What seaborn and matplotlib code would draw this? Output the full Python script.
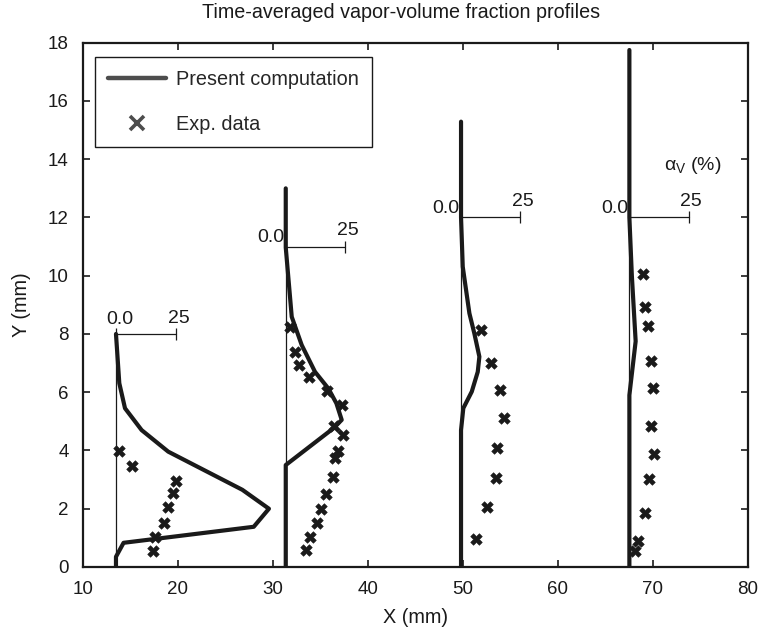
import matplotlib
matplotlib.use("Agg")
import matplotlib.pyplot as plt
import seaborn as sns
import pandas as pd
from matplotlib.lines import Line2D

# --------------------------------------------------
# Data (X and Y in mm)
# --------------------------------------------------
stations = ["s1", "s2", "s3", "s4"]
baseline_x = [13.5, 31.37, 49.82, 67.54]      # 0.0 % position of each profile
scale_y = [8.0, 11.0, 12.0, 12.0]             # height of the little scale bar
scale_25_x = [19.85, 37.63, 56.04, 73.79]     # 25 % position of each profile

calc1_x = [13.5, 13.5, 14.3, 28.0, 29.6, 26.8, 19.0, 16.2, 14.45, 13.85, 13.5]
calc1_y = [0.0, 0.35, 0.83, 1.38, 2.0, 2.65, 3.96, 4.70, 5.45, 6.31, 8.0]
calc2_x = [31.37, 31.37, 36.38, 37.26, 36.7, 35.85, 34.45, 33.05, 32.0, 31.37, 31.37]
calc2_y = [0.0, 3.50, 4.76, 5.05, 5.62, 6.13, 6.70, 7.62, 8.59, 10.97, 13.0]
calc3_x = [49.82, 49.82, 50.06, 50.95, 51.58, 51.75, 51.22, 50.7, 50.0, 49.82, 49.82]
calc3_y = [0.0, 4.70, 5.45, 6.02, 6.70, 7.22, 8.02, 8.71, 10.31, 12.0, 15.29]
calc4_x = [67.54, 67.54, 68.2, 67.8, 67.54, 67.54]
calc4_y = [0.0, 5.9, 7.75, 10.0, 12.0, 17.75]

exp1_x = [13.85, 15.22, 19.82, 19.47, 19.0, 18.56, 17.61, 17.37]
exp1_y = [3.99, 3.47, 2.96, 2.53, 2.05, 1.50, 1.04, 0.56]
exp2_x = [31.82, 32.35, 32.77, 33.82, 35.75, 37.26, 36.49, 37.37, 36.84, 36.6,
          36.38, 35.58, 35.05, 34.63, 33.93, 33.47]
exp2_y = [8.25, 7.39, 6.93, 6.51, 6.05, 5.56, 4.84, 4.53, 3.99, 3.75,
          3.10, 2.50, 1.98, 1.52, 1.04, 0.58]
exp3_x = [51.93, 52.98, 53.93, 54.38, 53.58, 53.51, 52.53, 51.4]
exp3_y = [8.14, 7.01, 6.08, 5.10, 4.07, 3.04, 2.07, 0.95]
exp4_x = [68.95, 69.2, 69.47, 69.82, 70.0, 69.82, 70.14, 69.65, 69.2, 68.4, 68.15]
exp4_y = [10.07, 8.91, 8.29, 7.06, 6.14, 4.85, 3.87, 3.01, 1.87, 0.88, 0.55]

calc_x = [calc1_x, calc2_x, calc3_x, calc4_x]
calc_y = [calc1_y, calc2_y, calc3_y, calc4_y]
exp_x = [exp1_x, exp2_x, exp3_x, exp4_x]
exp_y = [exp1_y, exp2_y, exp3_y, exp4_y]

calc_df = pd.concat(
    [pd.DataFrame({"station": s, "x": x, "y": y})
     for s, x, y in zip(stations, calc_x, calc_y)],
    ignore_index=True,
)
exp_df = pd.concat(
    [pd.DataFrame({"station": s, "x": x, "y": y})
     for s, x, y in zip(stations, exp_x, exp_y)],
    ignore_index=True,
)

# --------------------------------------------------
# Style
# --------------------------------------------------
sns.set_style("ticks", {"xtick.direction": "in", "ytick.direction": "in"})
plt.rcParams["font.family"] = ["Liberation Sans", "DejaVu Sans"]
plt.rcParams["mathtext.fontset"] = "custom"
plt.rcParams["mathtext.rm"] = "Liberation Sans"
plt.rcParams["mathtext.it"] = "Liberation Sans"

ink = "#1a1a1a"

fig = plt.figure(figsize=(7.61, 6.33), dpi=100)
ax = fig.add_axes([0.1087, 0.1043, 0.8739, 0.8282])

# thin baselines and scale bars
for bx, sy, s25 in zip(baseline_x, scale_y, scale_25_x):
    ax.plot([bx, bx], [0, sy], color=ink, lw=0.9, zorder=2)
    ax.plot([bx, s25], [sy, sy], color=ink, lw=0.9, marker="|",
            ms=8, mew=0.9, zorder=2)

# computed profiles
sns.lineplot(data=calc_df, x="x", y="y", units="station", estimator=None,
             sort=False, color=ink, lw=3.0, ax=ax, legend=False, zorder=3)

# experimental data
sns.scatterplot(data=exp_df, x="x", y="y", marker="X", s=70, color=ink,
                edgecolor=ink, linewidth=0.4, ax=ax, legend=False, zorder=4)

# scale-bar labels
fs = 14
for i, (bx, sy, s25) in enumerate(zip(baseline_x, scale_y, scale_25_x)):
    if i == 0:
        ax.text(bx + 0.4, sy + 0.2, "0.0", ha="center", va="bottom",
                fontsize=fs, color=ink)
    else:
        ax.text(bx - 0.15, sy + 0.03, "0.0", ha="right", va="bottom",
                fontsize=fs, color=ink)
    ax.text(s25 + 0.25, sy + 0.25, "25", ha="center", va="bottom",
            fontsize=fs, color=ink)
ax.text(74.2, 13.78, r"$\alpha_{V}$ (%)", ha="center", va="center",
        fontsize=fs, color=ink)

# axes
ax.set_xlim(10, 80)
ax.set_ylim(0, 18)
ax.set_xticks(range(10, 81, 10))
ax.set_yticks(range(0, 19, 2))
ax.tick_params(axis="both", which="both", direction="in", top=True,
               right=True, length=5, width=1.2, labelsize=13.5, colors=ink)
ax.tick_params(axis="x", pad=10)
ax.tick_params(axis="y", pad=10)
for sp in ax.spines.values():
    sp.set_linewidth(1.6)
    sp.set_color(ink)
ax.set_xlabel("X (mm)", fontsize=14.3, color=ink, labelpad=7)
ax.set_ylabel("Y (mm)", fontsize=14.3, color=ink, labelpad=12)

fig.text(0.527, 1 - 13 / 633, "Time-averaged vapor-volume fraction profiles",
         ha="center", va="center", fontsize=14.2, color=ink)

# legend
handles = [
    Line2D([], [], color="#4d4d4d", lw=3.2),
    Line2D([], [], color="#4d4d4d", lw=0, marker="x", ms=10, mew=2.6),
]
leg = ax.legend(handles, ["Present computation", "Exp. data"],
                loc="upper left", bbox_to_anchor=(0.0185, 0.973),
                borderaxespad=0, fontsize=14.3, fancybox=False,
                framealpha=1, edgecolor=ink, handlelength=2.9,
                handletextpad=0.55, borderpad=0.65, labelspacing=1.3)
leg.get_frame().set_linewidth(1.0)

plt.savefig("out.png", dpi=100)
